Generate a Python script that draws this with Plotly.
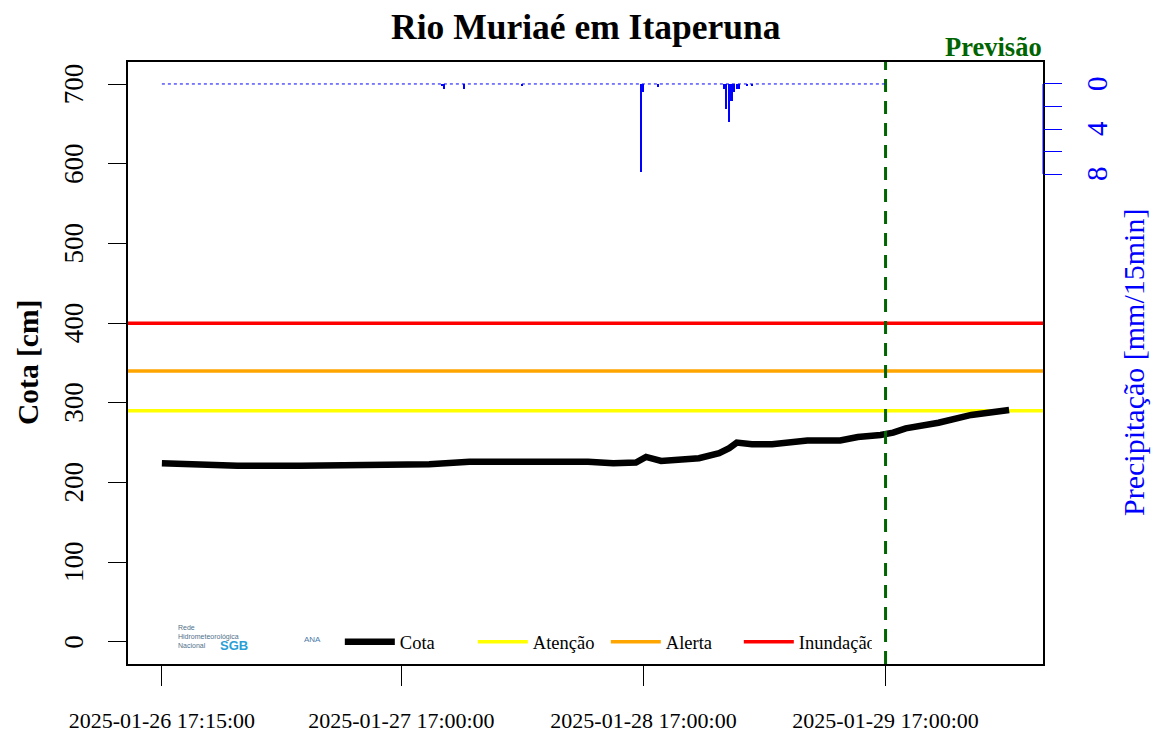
import pandas as pd
import plotly.graph_objects as go

# ---------------- data ----------------
title_text = "Rio Muriaé em Itaperuna"

cota_times = [
    "2025-01-26 17:15", "2025-01-26 21:15", "2025-01-27 00:45", "2025-01-27 07:00",
    "2025-01-27 15:00", "2025-01-27 19:45", "2025-01-27 23:45", "2025-01-28 04:00",
    "2025-01-28 07:30", "2025-01-28 11:30", "2025-01-28 14:00", "2025-01-28 16:15",
    "2025-01-28 17:15", "2025-01-28 18:45", "2025-01-28 20:45", "2025-01-28 22:30",
    "2025-01-29 00:30", "2025-01-29 01:30", "2025-01-29 02:15", "2025-01-29 03:45",
    "2025-01-29 05:45", "2025-01-29 09:15", "2025-01-29 12:30", "2025-01-29 14:15",
    "2025-01-29 16:30", "2025-01-29 17:45", "2025-01-29 19:00", "2025-01-29 22:15",
    "2025-01-30 01:30", "2025-01-30 03:15", "2025-01-30 05:00", "2025-01-30 05:15",
]
cota_values = [
    224, 222, 221, 221,
    221.4, 223, 226, 225,
    226, 226, 224, 225,
    232, 227, 229, 230.5,
    236.8, 243, 250, 248,
    248, 252.6, 252.6, 257,
    259.7, 262.6, 268, 275,
    284.8, 288, 292, 291,
]

precip_start = "2025-01-26 17:15"
precip_end = "2025-01-29 17:00"
precip_event_times = [
    "2025-01-27 21:00", "2025-01-27 21:15", "2025-01-27 23:15", "2025-01-28 05:00",
    "2025-01-28 16:45", "2025-01-28 17:00", "2025-01-28 18:30", "2025-01-29 01:00",
    "2025-01-29 01:15", "2025-01-29 01:30", "2025-01-29 01:45", "2025-01-29 02:00",
    "2025-01-29 02:15", "2025-01-29 02:30", "2025-01-29 03:15", "2025-01-29 03:45",
]
precip_event_values = [
    0.2, 0.45, 0.45, 0.2,
    7.8, 0.7, 0.25, 0.45,
    2.2, 3.4, 1.5, 0.7,
    0.45, 0.45, 0.2, 0.2,
]

thresholds_names = ["Atenção", "Alerta", "Inundação"]
thresholds_values = [290, 340, 400]
thresholds_colors = ["#FFFF00", "#FFA500", "#FF0000"]

forecast_start = "2025-01-29 17:00"

x_tick_labels = ["2025-01-26 17:15:00", "2025-01-27 17:00:00",
                 "2025-01-28 17:00:00", "2025-01-29 17:00:00"]
y_ticks = [0, 100, 200, 300, 400, 500, 600, 700]
y2_ticks = [0, 2, 4, 6, 8]
y2_ticktext = ["0", "", "4", "", "8"]

# ---------------- derived ----------------
FONT = "Liberation Serif, Times New Roman, serif"
ct = pd.to_datetime(cota_times)
t0, t1 = ct.min(), ct.max()
span = t1 - t0
x_range = [t0 - 0.04 * span, t1 + 0.04 * span]

precip_grid = pd.date_range(precip_start, precip_end, freq="15min")
precip_series = pd.Series(0.0, index=precip_grid)
for t, v in zip(pd.to_datetime(precip_event_times), precip_event_values):
    precip_series[t] = v

fig = go.Figure()

# precipitation baseline (zero readings) and bars
fig.add_trace(go.Scatter(
    x=precip_series.index, y=[0] * len(precip_series), yaxis="y2",
    mode="lines", line=dict(color="blue", width=1, dash="dot"),
    showlegend=False, hoverinfo="skip"))
fig.add_trace(go.Bar(
    x=pd.to_datetime(precip_event_times), y=precip_event_values, yaxis="y2",
    marker=dict(color="blue", line=dict(width=0)), width=9 * 60 * 1000,
    showlegend=False, name="Precipitação"))

# thresholds
for i, (n, v, c) in enumerate(zip(thresholds_names, thresholds_values, thresholds_colors)):
    fig.add_trace(go.Scatter(
        x=x_range, y=[v, v], mode="lines", line=dict(color=c, width=3.5),
        name=n, legendrank=i + 2))

# cota
fig.add_trace(go.Scatter(
    x=ct, y=cota_values, mode="lines", line=dict(color="black", width=6.5),
    name="Cota", legendrank=1))

# forecast line
fig.add_trace(go.Scatter(
    x=[pd.Timestamp(forecast_start)] * 2, y=[-28, 728], mode="lines",
    line=dict(color="#006400", width=3, dash="13px,9px"),
    showlegend=False, hoverinfo="skip"))

# rotated axis tick labels (centred on their ticks, as in the reference)
tick_annotations = []
for v in y_ticks:
    tick_annotations.append(dict(
        text=str(v), xref="paper", yref="y", x=0, xshift=-54, y=v,
        xanchor="center", yanchor="middle", textangle=-90, showarrow=False,
        font=dict(size=27, family=FONT, color="black")))
for v, lab in zip(y2_ticks, y2_ticktext):
    if lab:
        tick_annotations.append(dict(
            text=lab, xref="paper", yref="y2", x=1, xshift=54, y=v,
            xanchor="center", yanchor="middle", textangle=-90, showarrow=False,
            font=dict(size=29, family=FONT, color="blue")))

fig.update_layout(
    width=1153, height=735,
    margin=dict(l=128, r=110, t=62, b=71, autoexpand=False),
    paper_bgcolor="white", plot_bgcolor="white",
    font=dict(family=FONT, size=20, color="black"),
    showlegend=True,
    legend=dict(orientation="h", x=0.2315, y=0.036, xanchor="left", yanchor="middle",
                bgcolor="rgba(0,0,0,0)", font=dict(size=18.5, family=FONT),
                entrywidth=68, entrywidthmode="pixels", itemwidth=50,
                traceorder="normal"),
    bargap=0,
    xaxis=dict(type="date", range=x_range, showgrid=False, zeroline=False, automargin=False,
               tickvals=pd.to_datetime(x_tick_labels), ticktext=x_tick_labels,
               ticks="outside", ticklen=20, tickcolor="black", tickwidth=1,
               showline=True, linecolor="black", linewidth=1.5, mirror=True,
               ticklabelstandoff=16, tickfont=dict(size=22, family=FONT)),
    yaxis=dict(range=[-28, 728], showgrid=False, zeroline=False, automargin=False,
               tickvals=y_ticks, ticks="outside", ticklen=18, tickcolor="black",
               showline=True, linecolor="black", linewidth=1.5, mirror=True,
               showticklabels=False),
    yaxis2=dict(overlaying="y", side="right", range=[51.5, -1.95], showgrid=False,
                zeroline=False, automargin=False, tickvals=y2_ticks,
                ticks="outside", ticklen=18, tickcolor="blue", showline=False,
                showticklabels=False),
    annotations=tick_annotations + [
        dict(text="<b>" + title_text + "</b>", xref="paper", yref="paper",
             x=0.5, y=1.0, yshift=35, xanchor="center", yanchor="middle",
             showarrow=False, font=dict(size=35.5, family=FONT, color="black")),
        dict(text="<b>Previsão</b>", xref="paper", yref="paper",
             x=0.946, y=1.0, yshift=15, xanchor="center", yanchor="middle",
             showarrow=False, font=dict(size=26.5, family=FONT, color="#006400")),
        dict(text="<b>Cota [cm]</b>", xref="paper", yref="paper",
             x=0, xshift=-100, y=0.5, xanchor="center", yanchor="middle",
             textangle=-90, showarrow=False, font=dict(size=29.5, family=FONT)),
        dict(text="Precipitação [mm/15min]", xref="paper", yref="paper",
             x=1, xshift=90, y=0.5, xanchor="center", yanchor="middle",
             textangle=-90, showarrow=False,
             font=dict(size=30, family=FONT, color="blue")),
        dict(text="Rede<br>Hidrometeorológica<br>Nacional", xref="paper", yref="paper",
             x=0.052, y=0.045, xanchor="left", yanchor="middle", align="left",
             showarrow=False, font=dict(size=7, family="Liberation Sans Narrow, Arial", color="#50708a")),
        dict(text="<b>SGB</b>", xref="paper", yref="paper",
             x=0.098, y=0.03, xanchor="left", yanchor="middle",
             showarrow=False, font=dict(size=13, family="Liberation Sans", color="#2a9fd6")),
        dict(text="ANA", xref="paper", yref="paper",
             x=0.19, y=0.04, xanchor="left", yanchor="middle",
             showarrow=False, font=dict(size=8, family="Liberation Sans", color="#4a7aa8")),
    ],
)

# blue right-axis line over the 0..8 tick span
fig.add_shape(type="line", xref="paper", yref="y2", x0=1, x1=1,
              y0=y2_ticks[0], y1=y2_ticks[-1], line=dict(color="blue", width=1))

fig.write_html("out.html", config={"displayModeBar": False},
               post_script="document.body.style.margin='0';document.body.style.padding='0';")
